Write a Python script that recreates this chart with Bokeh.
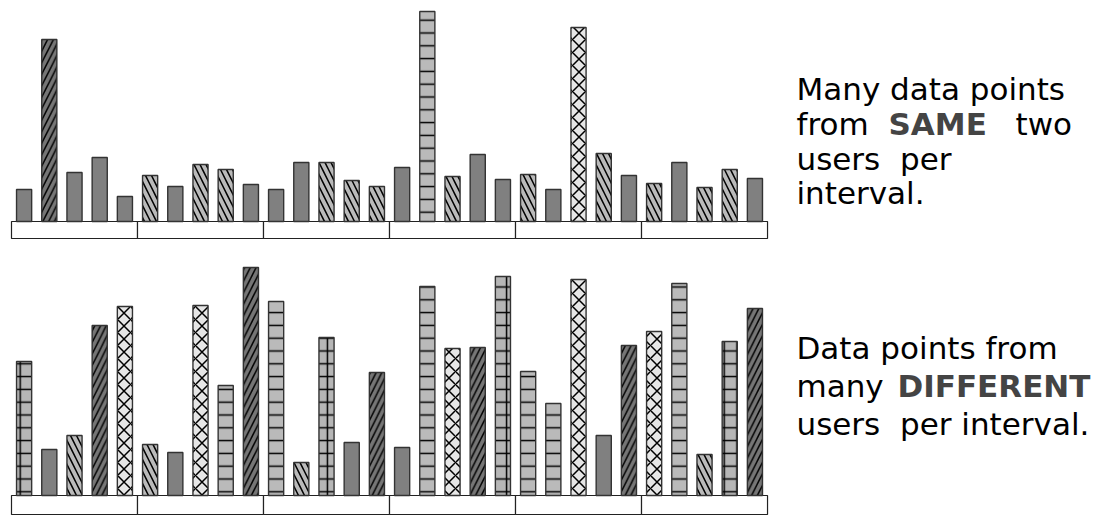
from bokeh.plotting import figure
from bokeh.models import ColumnDataSource, Range1d, Label
from bokeh.layouts import column
from bokeh.embed import file_html
from bokeh.resources import INLINE

# ---------------- data ----------------
intervals = ["1", "2", "3", "4", "5", "6"]
bars_per_interval = 5

# top panel: many data points from the SAME two users (A, B)
top_users = ["A", "C", "A", "A", "A",
             "B", "A", "B", "B", "A",
             "A", "A", "B", "B", "B",
             "A", "D", "B", "A", "A",
             "B", "A", "F", "B", "A",
             "B", "A", "B", "B", "A"]
top_values = [3.2, 18.2, 4.9, 6.4, 2.5,
              4.6, 3.5, 5.7, 5.2, 3.7,
              3.2, 5.9, 5.9, 4.1, 3.5,
              5.4, 21.0, 4.5, 6.7, 4.2,
              4.7, 3.2, 19.4, 6.8, 4.6,
              3.8, 5.9, 3.4, 5.2, 4.3]

# bottom panel: data points from many DIFFERENT users
bottom_users = ["E", "A", "B", "C", "F",
                "B", "A", "F", "D", "C",
                "D", "B", "E", "A", "C",
                "A", "D", "F", "C", "E",
                "D", "D", "F", "A", "C",
                "F", "D", "B", "E", "C"]
bottom_values = [13.4, 4.6, 6.0, 17.0, 18.9,
                 5.1, 4.3, 19.0, 11.0, 22.8,
                 19.4, 3.3, 15.8, 5.3, 12.3,
                 4.8, 20.9, 14.7, 14.8, 21.9,
                 12.4, 9.2, 21.6, 6.0, 15.0,
                 16.4, 21.2, 4.1, 15.4, 18.7]

NB = "\u00a0"
top_text = ["Many data points", "from", "SAME", "two", "users" + NB + NB + "per", "interval."]
bottom_text = ["Data points from", "many", "DIFFERENT", "users" + NB + NB + "per interval."]

# ---------------- styles ----------------
user_style = {
    "A": dict(fill="#808080", hatch=" ", scale=12.0),
    "B": dict(fill="#bababa", hatch="\\", scale=12.0),
    "C": dict(fill="#767676", hatch="/", scale=11.5),
    "D": dict(fill="#bababa", hatch="-", scale=12.8),
    "E": dict(fill="#b6b6b6", hatch="+", scale=12.8),
    "F": dict(fill="#e6e6e6", hatch="x", scale=13.0),
}

W = 1108
BAR_W = 0.6
X_START, X_END = -0.4365, 43.53
FONT = "DejaVu Sans"
FS = "31px"


def make_panel(users, values, height, y_start, y_end, band_bottom):
    p = figure(width=W, height=height, output_backend="svg", toolbar_location=None,
               x_axis_location=None, y_axis_location=None, min_border=0,
               x_range=Range1d(X_START, X_END), y_range=Range1d(y_start, y_end))
    p.outline_line_color = None
    p.xgrid.visible = False
    p.ygrid.visible = False
    p.background_fill_color = "white"
    p.border_fill_color = "white"

    n = len(values)
    xs = [(i // bars_per_interval) * bars_per_interval + (i % bars_per_interval) + 0.5
          for i in range(n)]
    src = ColumnDataSource(dict(
        x=xs, top=values,
        fill=[user_style[u]["fill"] for u in users],
        hatch=[user_style[u]["hatch"] for u in users],
        scale=[user_style[u]["scale"] for u in users],
    ))
    # interval strip
    box = ColumnDataSource(dict(
        left=[k * bars_per_interval for k in range(len(intervals))],
        right=[(k + 1) * bars_per_interval for k in range(len(intervals))],
    ))
    p.quad(left="left", right="right", top=0, bottom=band_bottom, source=box,
           fill_color="white", line_color="#222222", line_width=1.2)
    p.vbar(x="x", top="top", bottom=0, width=BAR_W, source=src,
           fill_color="fill", line_color="#333333", line_width=1.4,
           hatch_pattern="hatch", hatch_scale="scale", hatch_color="black",
           hatch_weight=1.5)
    return p


top = make_panel(top_users, top_values, 254, -3.3, 22.1, -1.7)
bottom = make_panel(bottom_users, bottom_values, 263, -2.2, 24.1, -1.9)


def lab(p, x, y, text, bold=False):
    p.add_layout(Label(x=x, y=y, x_units="screen", y_units="screen", text=text,
                       text_font=FONT, text_font_size=FS,
                       text_font_style="bold" if bold else "normal",
                       text_color="#444444" if bold else "black",
                       text_baseline="alphabetic", text_align="left"))


lab(top, 796, 166, top_text[0])
lab(top, 796, 131, top_text[1])
lab(top, 888, 131, top_text[2], bold=True)
lab(top, 1015, 131, top_text[3])
lab(top, 796, 96, top_text[4])
lab(top, 796, 62, top_text[5])

lab(bottom, 796, 170, bottom_text[0])
lab(bottom, 796, 132, bottom_text[1])
lab(bottom, 897, 132, bottom_text[2], bold=True)
lab(bottom, 796, 94, bottom_text[3])

layout = column(top, bottom, spacing=0)
open("out.html", "w").write(file_html(layout, INLINE))
